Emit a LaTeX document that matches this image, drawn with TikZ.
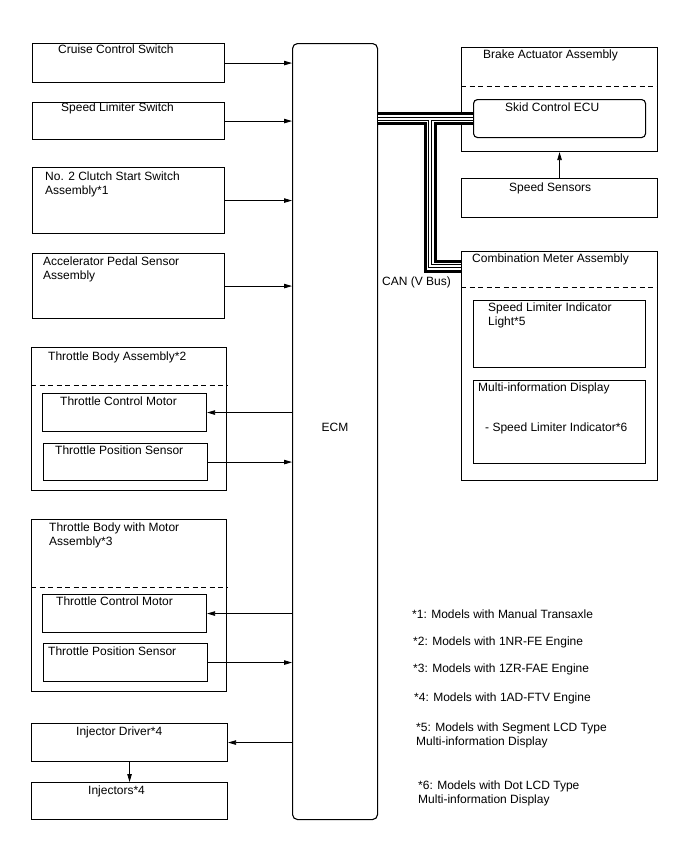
\documentclass[tikz,border=0pt]{standalone}
\usepackage{fontspec}
\setmainfont{Liberation Sans}
\usetikzlibrary{arrows.meta,positioning}

\begin{document}
\begin{tikzpicture}[x=1pt,y=-1pt,
    box/.style={draw,line width=1.1pt,anchor=north west,inner sep=0pt},
    txt/.style={anchor=north west,align=left,inner sep=0pt,font=\fontsize{12}{14}\selectfont},
    sig/.style={line width=0.8pt,-{Triangle[length=8pt,width=4.5pt]}},
    sep/.style={line width=1pt,dash pattern=on 5pt off 3.5pt}]
  \useasboundingbox (0,0) rectangle (688,852);
  % ECM
  \node[box,rounded corners=5pt,minimum width=85pt,minimum height=776pt] (ecm) at (292,43) {};
  \node[txt,anchor=center] (ecmt) at (335,427) {ECM};
  % inputs on the left
  \node[box,minimum width=192pt,minimum height=39pt] (ccs) at (32,43) {};
  \node[txt] (ccst) at (58,45) {Cruise Control Switch};
  \node[box,minimum width=192pt,minimum height=37pt] (sls) at (32,102) {};
  \node[txt] (slst) at (61,103) {Speed Limiter Switch};
  \node[box,minimum width=192pt,minimum height=66pt] (clu) at (32,167) {};
  \node[txt] (clut) at (45,172) {No. 2 Clutch Start Switch\\Assembly*1};
  \node[box,minimum width=192pt,minimum height=65pt] (aps) at (32,253) {};
  \node[txt] (apst) at (43,257) {Accelerator Pedal Sensor\\Assembly};
  % throttle body *2
  \node[box,minimum width=195pt,minimum height=143pt] (tba) at (31,347) {};
  \node[txt] (tbat) at (48,352) {Throttle Body Assembly*2};
  \draw[sep] ([yshift=-38pt]tba.north west) -- ([yshift=-38pt]tba.north east);
  \node[box,minimum width=164pt,minimum height=38pt] (tcma) at (42,393) {};
  \node[txt] (tcmat) at (60,397) {Throttle Control Motor};
  \node[box,minimum width=164pt,minimum height=37pt] (tpsa) at (43,443) {};
  \node[txt] (tpsat) at (55,446) {Throttle Position Sensor};
  % throttle body *3
  \node[box,minimum width=195pt,minimum height=172pt] (tbb) at (31,519) {};
  \node[txt] (tbbt) at (49,523) {Throttle Body with Motor\\Assembly*3};
  \draw[sep] ([yshift=-68pt]tbb.north west) -- ([yshift=-68pt]tbb.north east);
  \node[box,minimum width=164pt,minimum height=38pt] (tcmb) at (42,594) {};
  \node[txt] (tcmbt) at (56,597) {Throttle Control Motor};
  \node[box,minimum width=164pt,minimum height=38pt] (tpsb) at (43,643) {};
  \node[txt] (tpsbt) at (48,647) {Throttle Position Sensor};
  % injectors
  \node[box,minimum width=196pt,minimum height=38pt] (idrv) at (31,723) {};
  \node[txt] (idrvt) at (76,727) {Injector Driver*4};
  \node[box,minimum width=196pt,minimum height=37pt] (inj) at (31,782) {};
  \node[txt] (injt) at (88,786) {Injectors*4};
  % right side
  \node[box,minimum width=196pt,minimum height=104pt] (bra) at (461,47) {};
  \node[txt] (brat) at (483,50) {Brake Actuator Assembly};
  \draw[sep] ([yshift=-39pt]bra.north west) -- ([yshift=-39pt]bra.north east);
  \node[box,rounded corners=4pt,minimum width=172pt,minimum height=38pt] (skid) at (473,99) {};
  \node[txt] (skidt) at (505,103) {Skid Control ECU};
  \node[box,minimum width=196pt,minimum height=39pt] (spd) at (461,178) {};
  \node[txt] (spdt) at (509,183) {Speed Sensors};
  \node[box,minimum width=196pt,minimum height=229pt] (cmb) at (461,251) {};
  \node[txt] (cmbt) at (472,254) {Combination Meter Assembly};
  \draw[sep] ([yshift=-36pt]cmb.north west) -- ([yshift=-36pt]cmb.north east);
  \node[box,minimum width=172pt,minimum height=67pt] (sli) at (473,300) {};
  \node[txt] (slit) at (488,303) {Speed Limiter Indicator\\Light*5};
  \node[box,minimum width=172pt,minimum height=83pt] (mid) at (473,380) {};
  \node[txt] (midt) at (478,383) {Multi-information Display};
  \node[txt] (midi) at (485,423) {- Speed Limiter Indicator*6};
  % signal lines
  \foreach \n in {ccs,sls,clu,aps,tpsa,tpsb}
    \draw[sig] (\n.east) -- (\n.east -| ecm.west);
  \foreach \n in {tcma,tcmb,idrv}
    \draw[sig] (\n.east -| ecm.west) -- (\n.east);
  \draw[sig] (spd.north) -- (bra.south);
  \draw[sig] (idrv.south) -- (inj.north);
  % CAN (V Bus)
  \coordinate (jn) at (430,118);
  \coordinate (cmin) at (461,266);
  \foreach \w/\c in {13/black,7/white,4/black,2/white}
    \draw[line width=\w pt,\c] (skid.west -| ecm.east) -- (skid.west) (jn) |- (cmin);
  \node[txt] (can) at (382,277) {CAN (V Bus)};
  % notes
  \node[txt] (n1) at (412,610) {*1: Models with Manual Transaxle};
  \node[txt] (n2) at (413,637) {*2: Models with 1NR-FE Engine};
  \node[txt] (n3) at (413,664) {*3: Models with 1ZR-FAE Engine};
  \node[txt] (n4) at (414,693) {*4: Models with 1AD-FTV Engine};
  \node[txt] (n5) at (416,723) {*5: Models with Segment LCD Type\\Multi-information Display};
  \node[txt] (n6) at (418,781) {*6: Models with Dot LCD Type\\Multi-information Display};
\end{tikzpicture}
\end{document}
